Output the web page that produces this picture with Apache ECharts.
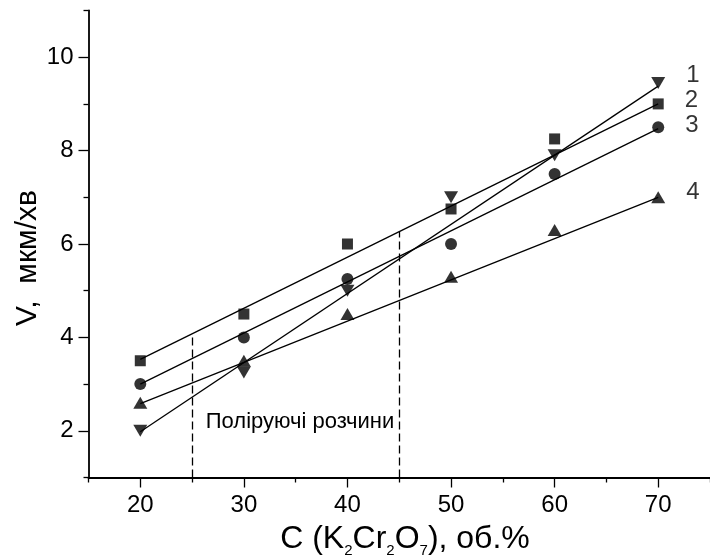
<!DOCTYPE html>
<html>
<head>
<meta charset="utf-8">
<script src="https://cdn.jsdelivr.net/npm/echarts@6/dist/echarts.min.js"></script>
<style>
  html, body { margin: 0; padding: 0; background: #fff; }
  #chart { width: 710px; height: 559px; }
</style>
</head>
<body>
<div id="chart"></div>
<script>
// concentration, об.%
var conc = [20, 30, 40, 50, 60, 70]
// measured points for the four solutions
var v1 = [2.0, 3.25, 5.0, 7.0, 7.9, 9.45]
var v2 = [3.5, 4.5, 6.0, 6.75, 8.25, 9.0]
var v3 = [3.0, 4.0, 5.25, 6.0, 7.5, 8.5]
var v4 = [2.6, 3.5, 4.5, 5.3, 6.3, 7.0]
// fitted lines, read at x = 20 and x = 70
var fitX = [20, 70]
var fit1 = [1.98, 9.38]
var fit2 = [3.53, 9.0]
var fit3 = [3.0, 8.47]
var fit4 = [2.58, 7.0]
// polishing region bounds and where the dashes meet line 2
var polishX = [25, 45]
var polishTop = [4.08, 6.27]
// ticks
var xMajor = [20, 30, 40, 50, 60, 70]
var xMinor = [15, 25, 35, 45, 55, 65, 75]
var yMajor = [2, 4, 6, 8, 10]
var yMinor = [1, 3, 5, 7, 9, 11]

var FONT = 'Liberation Sans, Arial, sans-serif'
var chart = echarts.init(document.getElementById('chart'))

function pts(vals, label, dy) {
  return vals.map(function (v, i) {
    if (i === vals.length - 1) {
      return {
        value: [conc[i], v],
        label: {
          show: true, formatter: label, position: 'right', distance: 21,
          offset: [0, dy], color: '#000', fontSize: 24, fontFamily: FONT
        }
      }
    }
    return [conc[i], v]
  })
}

function fit(vals) {
  return [[fitX[0], vals[0]], [fitX[1], vals[1]]]
}

var lineStyle = { color: '#000', width: 1.3 }

chart.setOption({
  animation: false,
  grid: { left: 88.5, right: -8.5, top: 10.5, bottom: 81.5 },
  xAxis: [
    {
      type: 'value', min: 15, max: 75,
      axisLine: { lineStyle: { color: '#000', width: 1.8 } },
      axisTick: { customValues: xMajor, length: 10, lineStyle: { color: '#000', width: 1.3 } },
      axisLabel: { customValues: xMajor, margin: 16, color: '#000', fontSize: 24, fontFamily: FONT },
      splitLine: { show: false }
    },
    {
      type: 'value', min: 15, max: 75, position: 'bottom', offset: 0,
      axisLine: { show: false },
      axisTick: { customValues: xMinor, length: 5, lineStyle: { color: '#000', width: 1.3 } },
      axisLabel: { show: false },
      splitLine: { show: false }
    }
  ],
  yAxis: [
    {
      type: 'value', min: 1, max: 11,
      axisLine: { show: true, lineStyle: { color: '#000', width: 1.8 } },
      axisTick: { show: true, customValues: yMajor, length: 10, lineStyle: { color: '#000', width: 1.3 } },
      axisLabel: { customValues: yMajor, margin: 15, color: '#000', fontSize: 24, fontFamily: FONT },
      splitLine: { show: false }
    },
    {
      type: 'value', min: 1, max: 11, position: 'left', offset: 0,
      axisLine: { show: false },
      axisTick: { show: true, customValues: yMinor, length: 5, lineStyle: { color: '#000', width: 1.3 } },
      axisLabel: { show: false },
      splitLine: { show: false }
    }
  ],
  graphic: [
    {
      type: 'text', x: 28, y: 258, rotation: Math.PI / 2,
      style: {
        text: 'V,  мкм/хв', fill: '#000', font: '30px ' + FONT,
        align: 'center', verticalAlign: 'middle'
      }
    },
    {
      type: 'text', x: 405, y: 523,
      style: {
        text: '{m|C (K}{s|2}{m|Cr}{s|2}{m|O}{s|7}{m|), об.%}',
        rich: {
          m: { fontSize: 32, lineHeight: 32, verticalAlign: 'top', fontFamily: FONT, fill: '#000' },
          s: { fontSize: 15, lineHeight: 15, padding: [20, 0, 0, 0], verticalAlign: 'top', fontFamily: FONT, fill: '#000' }
        },
        fill: '#000', font: '32px ' + FONT,
        align: 'center', verticalAlign: 'top'
      }
    },
    {
      type: 'text', x: 300, y: 422,
      style: {
        text: 'Поліруючі розчини', fill: '#000', font: '22px ' + FONT,
        align: 'center', verticalAlign: 'middle'
      }
    }
  ],
  series: [
    { type: 'line', data: fit(fit1), showSymbol: false, lineStyle: lineStyle },
    {
      type: 'line', data: fit(fit2), showSymbol: false, lineStyle: lineStyle,
      markLine: {
        silent: true, symbol: ['none', 'none'], label: { show: false },
        lineStyle: { color: '#000', width: 1.3, type: [8, 4] },
        data: polishX.map(function (x, i) {
          return [{ coord: [x, 1] }, { coord: [x, polishTop[i]] }]
        })
      }
    },
    { type: 'line', data: fit(fit3), showSymbol: false, lineStyle: lineStyle },
    { type: 'line', data: fit(fit4), showSymbol: false, lineStyle: lineStyle },
    {
      type: 'scatter', data: pts(v1, '1', -8), symbol: 'triangle', symbolRotate: 180,
      symbolSize: [14, 12], itemStyle: { color: '#000' }
    },
    {
      type: 'scatter', data: pts(v2, '2', -4), symbol: 'rect',
      symbolSize: 11, itemStyle: { color: '#000' }
    },
    {
      type: 'scatter', data: pts(v3, '3', -2), symbol: 'circle',
      symbolSize: 12, itemStyle: { color: '#000' }
    },
    {
      type: 'scatter', data: pts(v4, '4', -5), symbol: 'triangle',
      symbolSize: [14, 12], itemStyle: { color: '#000' }
    }
  ]
})
</script>
</body>
</html>
